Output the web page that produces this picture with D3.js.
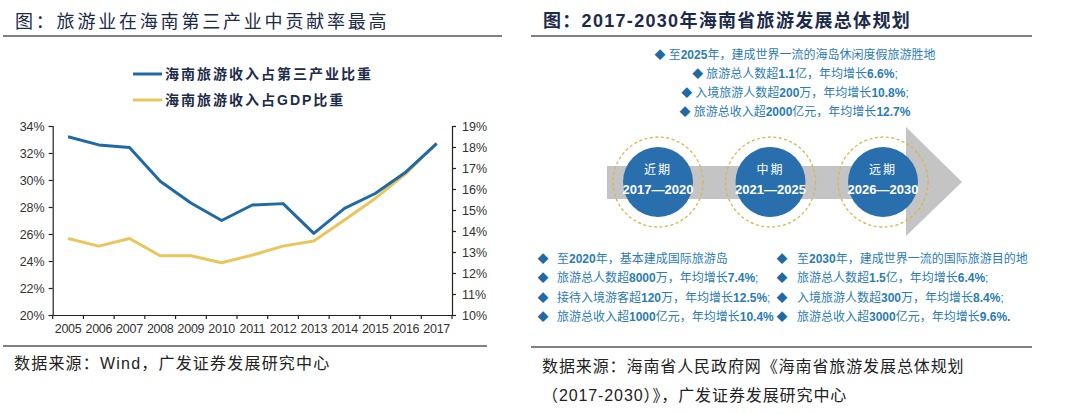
<!DOCTYPE html>
<html>
<head>
<meta charset="utf-8">
<script src="https://cdn.jsdelivr.net/npm/d3@7/dist/d3.min.js"></script>
<style>
  html, body { margin: 0; padding: 0; background: #fff; }
  svg { display: block; }
  text { font-family: "Liberation Sans", Arial, "Noto Sans CJK SC", sans-serif; }
</style>
</head>
<body>
<svg id="chart" width="1080" height="414"></svg>
<script>
// ---------------- DATA ----------------
const years = ["2005","2006","2007","2008","2009","2010","2011","2012","2013","2014","2015","2016","2017"];
const shareTertiary = [33.2, 32.6, 32.4, 29.9, 28.3, 27.0, 28.15, 28.25, 26.05, 27.9, 29.0, 30.6, 32.7]; // left axis, %
const shareGDP = [13.64, 13.28, 13.64, 12.82, 12.82, 12.49, 12.85, 13.28, 13.52, 14.52, 15.55, 16.73, 18.19]; // right axis, %
const leftTicks = [20, 22, 24, 26, 28, 30, 32, 34];
const rightTicks = [10, 11, 12, 13, 14, 15, 16, 17, 18, 19];
const seriesNames = ["海南旅游收入占第三产业比重", "海南旅游收入占GDP比重"];

const leftTitle = "图：旅游业在海南第三产业中贡献率最高";
const leftSource = "数据来源：Wind，广发证券发展研究中心";
const rightTitle = "图：2017-2030年海南省旅游发展总体规划";
const rightSource1 = "数据来源：海南省人民政府网《海南省旅游发展总体规划";
const rightSource2 = "（2017-2030）》，广发证券发展研究中心";

const phaseNames = ["近期", "中期", "远期"];
const phaseRanges = ["2017—2020", "2021—2025", "2026—2030"];
const topBullets = [
  "至2025年，建成世界一流的海岛休闲度假旅游胜地",
  "旅游总人数超1.1亿，年均增长6.6%;",
  "入境旅游人数超200万，年均增长10.8%;",
  "旅游总收入超2000亿元，年均增长12.7%"
];
const leftBullets = [
  "至2020年，基本建成国际旅游岛",
  "旅游总人数超8000万，年均增长7.4%;",
  "接待入境游客超120万，年均增长12.5%;",
  "旅游总收入超1000亿元，年均增长10.4%"
];
const rightBullets = [
  "至2030年，建成世界一流的国际旅游目的地",
  "旅游总人数超1.5亿，年均增长6.4%;",
  "入境旅游人数超300万，年均增长8.4%;",
  "旅游总收入超3000亿元，年均增长9.6%."
];

// ---------------- STYLE ----------------
const BLUE = "#1f6aa5";
const GOLD = "#e9c65c";
const TITLE = "#1c2b4a";
const TEXT = "#333333";
const BUL = "#2b7cb4";

const svg = d3.select("#chart");

// ---------------- LEFT PANEL ----------------
svg.append("text").attr("x", 15).attr("y", 22).attr("dominant-baseline", "central")
  .attr("font-size", 18).attr("fill", TITLE).attr("letter-spacing", 2.8).text(leftTitle);
svg.append("line").attr("x1", 3).attr("x2", 502).attr("y1", 36).attr("y2", 36)
  .attr("stroke", "#808080").attr("stroke-width", 2);

const x = d3.scaleBand().domain(years).range([52.7, 452]).paddingInner(0).paddingOuter(0);
const yL = d3.scaleLinear().domain([20, 34]).range([315, 126]);
const yR = d3.scaleLinear().domain([10, 19]).range([315, 126]);

const axL = svg.append("g").attr("transform", "translate(52.7,0)")
  .call(d3.axisLeft(yL).tickValues(leftTicks).tickFormat(d => d + "%").tickSize(4).tickPadding(4));
const axR = svg.append("g").attr("transform", "translate(452,0)")
  .call(d3.axisRight(yR).tickValues(rightTicks).tickFormat(d => d + "%").tickSize(4).tickPadding(6));
const axB = svg.append("g").attr("transform", "translate(0,315)")
  .call(d3.axisBottom(x).tickSize(0).tickPadding(9));
// category boundary ticks
svg.append("g").selectAll("line").data(years.concat(["end"])).join("line")
  .attr("x1", (d, i) => x.range()[0] + i * x.step())
  .attr("x2", (d, i) => x.range()[0] + i * x.step())
  .attr("y1", 315).attr("y2", 319).attr("stroke", "#222").attr("stroke-width", 1.2);

[axL, axR, axB].forEach(a => {
  a.selectAll(".domain").attr("stroke", "#222").attr("stroke-width", 1.2);
  a.selectAll(".tick line").attr("stroke", "#222").attr("stroke-width", 1.2);
  a.selectAll("text").attr("font-size", 12.5).attr("fill", TEXT)
    .attr("font-family", "'Liberation Sans', Arial, sans-serif");
});
axB.selectAll("text").attr("letter-spacing", -0.3);

const cx = d => x(d) + x.bandwidth() / 2;
const lineL = d3.line().x((d, i) => cx(years[i])).y(d => yL(d));
const lineR = d3.line().x((d, i) => cx(years[i])).y(d => yR(d));

svg.append("path").datum(shareGDP).attr("d", lineR).attr("fill", "none")
  .attr("stroke", GOLD).attr("stroke-width", 3).attr("stroke-linejoin", "round");
svg.append("path").datum(shareTertiary).attr("d", lineL).attr("fill", "none")
  .attr("stroke", BLUE).attr("stroke-width", 3).attr("stroke-linejoin", "round");

// legend
const legColors = [BLUE, GOLD];
const leg = svg.append("g");
seriesNames.forEach((n, i) => {
  const yy = 74 + i * 26;
  leg.append("line").attr("x1", 133).attr("x2", 162).attr("y1", yy).attr("y2", yy)
    .attr("stroke", legColors[i]).attr("stroke-width", 3);
  leg.append("text").attr("x", 165).attr("y", yy).attr("dominant-baseline", "central")
    .attr("font-size", 14).attr("font-weight", "bold").attr("letter-spacing", 2)
    .attr("fill", TITLE).text(n);
});

svg.append("line").attr("x1", 3).attr("x2", 487).attr("y1", 346).attr("y2", 346)
  .attr("stroke", "#808080").attr("stroke-width", 2);
svg.append("text").attr("x", 14).attr("y", 363).attr("dominant-baseline", "central")
  .attr("font-size", 16).attr("fill", "#222").attr("letter-spacing", 1.2).text(leftSource);

// ---------------- RIGHT PANEL ----------------
svg.append("text").attr("x", 543).attr("y", 21).attr("dominant-baseline", "central")
  .attr("font-size", 18).attr("fill", TITLE).attr("font-weight", "bold")
  .attr("letter-spacing", 1.3).text(rightTitle);
svg.append("line").attr("x1", 531).attr("x2", 1032).attr("y1", 36).attr("y2", 36)
  .attr("stroke", "#808080").attr("stroke-width", 2);

function richText(sel, str) {
  const parts = str.split(/([0-9][0-9.%]*)/).filter(s => s.length);
  parts.forEach(p => {
    const t = sel.append("tspan").text(p);
    if (/^[0-9]/.test(p)) t.attr("font-weight", "bold");
  });
}

// top bullets (centered)
const topY = [55, 74, 93, 112];
topBullets.forEach((b, i) => {
  const g = svg.append("text").attr("x", 795).attr("y", topY[i]).attr("text-anchor", "middle")
    .attr("dominant-baseline", "central").attr("font-size", 12).attr("fill", BUL);
  g.append("tspan").attr("fill", BLUE).attr("font-size", 11).text("◆  ");
  richText(g, b);
});

// arrow
svg.append("path")
  .attr("d", "M607,166 L906,166 L906,127 L962,182 L906,236 L906,199 L607,199 Z")
  .attr("fill", "#c4c4c4");

// phases
const px = d3.scalePoint().domain(phaseNames).range([658, 883]);
phaseNames.forEach((p, i) => {
  const c = px(p);
  svg.append("circle").attr("cx", c).attr("cy", 182).attr("r", 35).attr("fill", "#2a6fad");
  svg.append("circle").attr("cx", c).attr("cy", 182).attr("r", 45).attr("fill", "none")
    .attr("stroke", "#d9b54a").attr("stroke-width", 1.3).attr("stroke-dasharray", "3,2.5");
  svg.append("text").attr("x", c).attr("y", 170).attr("text-anchor", "middle")
    .attr("dominant-baseline", "central").attr("font-size", 12).attr("fill", "#fff")
    .attr("letter-spacing", 2).text(p);
  svg.append("text").attr("x", c).attr("y", 189).attr("text-anchor", "middle")
    .attr("dominant-baseline", "central").attr("font-size", 13).attr("font-weight", "bold")
    .attr("fill", "#fff").text(phaseRanges[i]);
});

// bottom bullets
const rowY = [259, 278, 298, 317];
[[leftBullets, 543, 557], [rightBullets, 782, 797]].forEach(([arr, dx, tx]) => {
  arr.forEach((b, i) => {
    svg.append("text").attr("x", dx).attr("y", rowY[i]).attr("text-anchor", "middle")
      .attr("dominant-baseline", "central").attr("font-size", 11).attr("fill", BLUE).text("◆");
    const t = svg.append("text").attr("x", tx).attr("y", rowY[i])
      .attr("dominant-baseline", "central").attr("font-size", 12).attr("fill", BUL);
    richText(t, b);
  });
});

svg.append("line").attr("x1", 531).attr("x2", 1032).attr("y1", 347).attr("y2", 347)
  .attr("stroke", "#808080").attr("stroke-width", 2);
svg.append("text").attr("x", 542).attr("y", 366).attr("dominant-baseline", "central")
  .attr("font-size", 16).attr("fill", "#222").attr("letter-spacing", 0.9).text(rightSource1);
svg.append("text").attr("x", 542).attr("y", 395).attr("dominant-baseline", "central")
  .attr("font-size", 16).attr("fill", "#222").attr("letter-spacing", 0.9).text(rightSource2);
</script>
</body>
</html>
